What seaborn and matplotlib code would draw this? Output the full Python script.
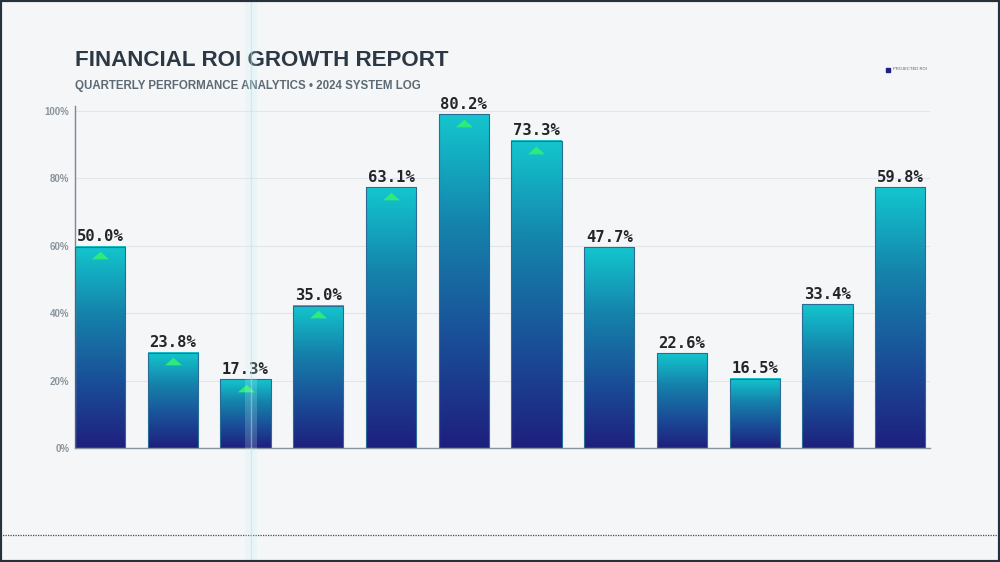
import numpy as np
import pandas as pd
import seaborn as sns
import matplotlib.pyplot as plt
from matplotlib.colors import LinearSegmentedColormap
from matplotlib.lines import Line2D
from matplotlib.patches import Rectangle

# chart values
periods = [f"P{i + 1}" for i in range(12)]
bar_height = [59.8, 28.3, 20.4, 42.3, 77.4, 99.0, 91.2, 59.6, 28.1, 20.6, 42.6, 77.4]
roi_labels = ["50.0%", "23.8%", "17.3%", "35.0%", "63.1%", "80.2%",
              "73.3%", "47.7%", "22.6%", "16.5%", "33.4%", "59.8%"]
growth_flag = [True, True, True, True, True, True, True,
               False, False, False, False, False]
y_ticks = [0, 20, 40, 60, 80, 100]
y_tick_labels = [f"{v}%" for v in y_ticks]

df = pd.DataFrame({"period": periods, "height": bar_height, "label": roi_labels})

bg = "#f4f6f8"
sns.set_theme(style="white")
plt.rcParams["font.family"] = ["Liberation Sans", "DejaVu Sans"]

fig = plt.figure(figsize=(10, 5.62), dpi=100, facecolor=bg)
ax = fig.add_axes([0.075, 0.2028, 0.855, 0.6085])
ax.set_facecolor(bg)

sns.barplot(data=df, x="period", y="height", ax=ax, width=0.69,
            color="#1580a8", edgecolor="#2b6c96", linewidth=0.8, zorder=3)

# vertical gradient per bar: navy at the base, cyan at the top
cmap = LinearSegmentedColormap.from_list("roi", ["#1e1f7e", "#1a4f98", "#1582ab", "#13c6ce"])
grad = np.linspace(0, 1, 256).reshape(-1, 1)
for p in ax.patches:
    x0, w, h = p.get_x(), p.get_width(), p.get_height()
    ax.imshow(grad, extent=[x0, x0 + w, 0, h], aspect="auto", cmap=cmap,
              origin="lower", zorder=2.5)
    p.set_facecolor("none")

# green "up" markers on the growing periods
tri = [(-1, -0.45), (1, -0.45), (0, 0.45)]
ups = df[growth_flag]
ax.scatter(ups.index, ups["height"] - 2.6, marker=tri, s=150,
           color="#2eea7c", linewidths=0, zorder=4)

for i, row in df.iterrows():
    ax.text(i, row["height"] + 0.8, row["label"], ha="center", va="bottom",
            family="DejaVu Sans Mono", fontsize=11.2, weight="bold",
            color="#232628", zorder=5)

ax.set_xlim(-0.344, 11.41)
ax.set_ylim(0, 101.5)
ax.set_yticks(y_ticks)
ax.set_yticklabels(y_tick_labels)
ax.set_xticks([])
ax.set_xlabel("")
ax.set_ylabel("")
ax.tick_params(axis="y", length=0, labelsize=7, labelcolor="#8a949c", pad=4)
for t in ax.get_yticklabels():
    t.set_fontweight("bold")
ax.yaxis.grid(True, color="#e2e6ea", lw=0.8)
ax.set_axisbelow(True)
for s in ["top", "right"]:
    ax.spines[s].set_visible(False)
ax.spines["left"].set_color("#7d8792")
ax.spines["bottom"].set_color("#8a949c")
ax.spines["left"].set_linewidth(1)
ax.spines["bottom"].set_linewidth(1)

fig.text(0.075, 0.893, "FINANCIAL ROI GROWTH REPORT", fontsize=16.1,
         weight="bold", color="#2c3945", va="center")
fig.text(0.075, 0.847, "QUARTERLY PERFORMANCE ANALYTICS \u2022 2024 SYSTEM LOG",
         fontsize=8.3, weight="bold", color="#5d6a74", va="center")

# tiny legend top right
fig.patches.append(Rectangle((0.886, 1 - 72 / 562), 0.004, 0.007,
                             transform=fig.transFigure, color="#1e1f7e"))
fig.text(0.893, 1 - 69 / 562, "PROJECTED ROI", fontsize=3, color="#555b62", va="center")

# dotted separator and frame
fig.lines.append(Line2D([0, 1], [1 - 535 / 562] * 2, transform=fig.transFigure,
                        ls=(0, (1, 1)), color="#444c55", lw=0.9))
fig.patches.append(Rectangle((0, 0), 1, 1, transform=fig.transFigure, fill=False,
                             edgecolor="#27313c", lw=3, zorder=20))

# faint scan glow
fig.patches.append(Rectangle((0.245, 0), 0.012, 1, transform=fig.transFigure,
                             color="#c9f1f3", alpha=0.2, lw=0, zorder=10))
fig.lines.append(Line2D([0.2505, 0.2505], [0, 1], transform=fig.transFigure,
                        color="#a6e6ea", lw=1, alpha=0.5, zorder=11))

fig.savefig("out.png", dpi=100, facecolor=bg)
